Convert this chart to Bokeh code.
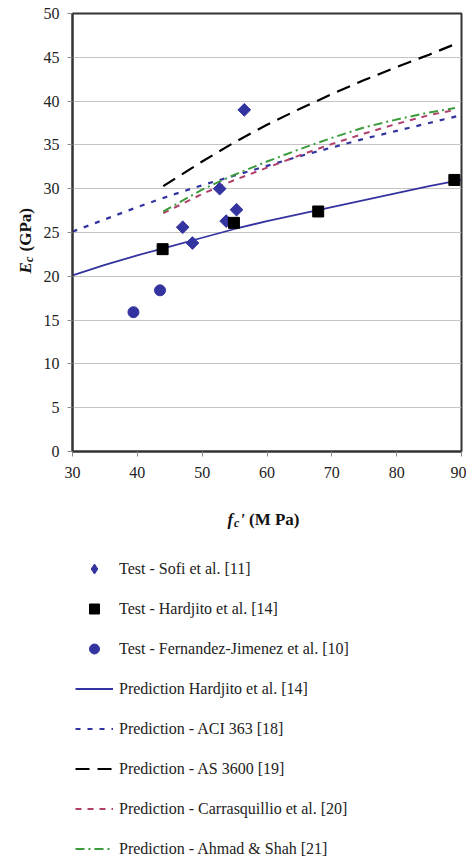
import numpy as np
from bokeh.plotting import figure
from bokeh.layouts import column, row
from bokeh.models import Legend, LegendItem, Label, FixedTicker, Range1d
from bokeh.embed import file_html
from bokeh.resources import INLINE

# ---- data ----
sofi_fc = [47.0, 48.5, 52.7, 53.7, 55.3, 56.5]
sofi_ec = [25.6, 23.8, 30.0, 26.3, 27.6, 39.0]
hard_fc = [43.9, 54.9, 67.9, 88.9]
hard_ec = [23.1, 26.1, 27.4, 31.0]
fj_fc = [39.4, 43.5]
fj_ec = [15.9, 18.4]

pred_fc = [30, 35, 40, 45, 50, 55, 60, 65, 70, 75, 80, 85, 90]
pred_hard_ec = [20.1, 21.3, 22.4, 23.4, 24.4, 25.4, 26.3, 27.1, 27.9, 28.7, 29.5, 30.3, 31.0]
aci_ec = [25.1, 26.5, 27.9, 29.2, 30.4, 31.5, 32.6, 33.7, 34.7, 35.7, 36.6, 37.5, 38.4]

hs_fc = [44, 50, 55, 60, 65, 70, 75, 80, 85, 89]
as_ec = [30.3, 33.1, 35.3, 37.3, 39.1, 40.8, 42.4, 43.9, 45.3, 46.5]
carr_ec = [27.2, 29.4, 31.0, 32.4, 33.8, 35.1, 36.3, 37.4, 38.4, 39.0]
ahmad_ec = [27.4, 29.9, 31.6, 33.1, 34.5, 35.8, 37.0, 37.9, 38.7, 39.2]

x_ticks = [30, 40, 50, 60, 70, 80, 90]
y_ticks = [0, 5, 10, 15, 20, 25, 30, 35, 40, 45, 50]

labels = [
    "Test - Sofi et al. [11]",
    "Test - Hardjito et al. [14]",
    "Test - Fernandez-Jimenez et al. [10]",
    "Prediction Hardjito et al. [14]",
    "Prediction - ACI 363 [18]",
    "Prediction - AS 3600 [19]",
    "Prediction - Carrasquillio et al. [20]",
    "Prediction - Ahmad & Shah [21]",
]

BLUE = "#3434a0"
RED = "#b0406a"
GREEN = "#3c9c3c"
FONT = "Liberation Serif"

STYLES = [
    ("scatter", dict(marker="square", angle=np.pi / 4, size=9, color=BLUE)),
    ("scatter", dict(marker="square", size=11, color="black")),
    ("scatter", dict(marker="circle", size=11, color=BLUE)),
    ("line", dict(line_color=BLUE, line_width=1.8)),
    ("line", dict(line_color=BLUE, line_width=2.2, line_dash="5 7")),
    ("line", dict(line_color="black", line_width=2.2, line_dash="14 8")),
    ("line", dict(line_color=RED, line_width=2, line_dash="6 6")),
    ("line", dict(line_color=GREEN, line_width=2, line_dash="9 4 2 4")),
]
SERIES = [
    (sofi_fc, sofi_ec), (hard_fc, hard_ec), (fj_fc, fj_ec),
    (pred_fc, pred_hard_ec), (pred_fc, aci_ec), (hs_fc, as_ec),
    (hs_fc, carr_ec), (hs_fc, ahmad_ec),
]


def draw(fig, i, legend_proxy=False):
    kind, kw = STYLES[i]
    xs, ys = SERIES[i]
    if kind == "line":
        return fig.line(xs, ys, **kw)
    kw = dict(kw)
    if legend_proxy and i == 0:
        # legend samples are drawn unrotated, so use a diamond marker there
        kw.pop("angle")
        kw["marker"] = "diamond"
    return fig.scatter(xs, ys, **kw)


def blank(w, h, xr, yr, **borders):
    f = figure(width=w, height=h, output_backend="svg", toolbar_location=None,
               x_range=xr, y_range=yr, x_axis_type=None, y_axis_type=None,
               **borders)
    f.outline_line_color = None
    f.grid.visible = False
    f.background_fill_color = "white"
    f.border_fill_color = "white"
    return f


# frame of the main chart, in page pixels
FL, FR, FT, FB = 70, 461, 13, 451
YW = 40  # width of the y-label strip

# ---------------- main chart ----------------
p = figure(width=466 - YW, height=491, output_backend="svg",
           toolbar_location=None,
           x_range=Range1d(30, 90), y_range=Range1d(0, 50),
           min_border_left=FL - YW, min_border_right=466 - FR,
           min_border_top=FT, min_border_bottom=491 - FB)
p.background_fill_color = "white"
p.border_fill_color = "white"
p.outline_line_color = "#333333"
p.outline_line_width = 2

p.xgrid.visible = False
p.ygrid.ticker = FixedTicker(ticks=y_ticks)
p.ygrid.grid_line_color = "#c4c4c4"
p.ygrid.grid_line_width = 1

for ax in (p.xaxis[0], p.yaxis[0]):
    ax.axis_line_color = "#333333"
    ax.axis_line_width = 2
    ax.major_tick_in = 0
    ax.major_tick_out = 5
    ax.major_tick_line_color = "#888888"
    ax.minor_tick_line_color = None
    ax.major_label_text_font = FONT
    ax.major_label_text_font_size = "16px"
    ax.major_label_text_color = "#222222"
p.xaxis.ticker = FixedTicker(ticks=x_ticks)
p.yaxis.ticker = FixedTicker(ticks=y_ticks)
p.xaxis.major_label_standoff = 10
p.yaxis.major_label_standoff = 8

# lines first, markers on top
for i in [3, 4, 5, 6, 7, 0, 1, 2]:
    draw(p, i)


def lab(fig, x, y, t, size, style, angle=0.0):
    fig.add_layout(Label(x=x, y=y, text=t, text_font=FONT,
                         text_font_size=f"{size}px", text_font_style=style,
                         angle=angle, text_align="left",
                         text_baseline="alphabetic", text_color="#111111"))


# ---------------- y-axis label strip (page pixel coordinates) -------
fy = blank(YW, 491, Range1d(0, YW), Range1d(FB, FT),
           min_border_left=0, min_border_right=0,
           min_border_top=FT, min_border_bottom=491 - FB)
lab(fy, 25, 273, "E", 17, "bold italic", np.pi / 2)
lab(fy, 28.5, 261.5, "c", 12, "bold italic", np.pi / 2)
lab(fy, 25, 251, "(GPa)", 17, "bold", np.pi / 2)

# ---------------- x-axis label strip ----------------
XH = 60
fx = blank(466, XH, Range1d(FL, FR), Range1d(XH, 0),
           min_border_left=FL, min_border_right=466 - FR,
           min_border_top=0, min_border_bottom=0)
lab(fx, 227, 28, "f", 17, "bold italic")
lab(fx, 233.5, 31, "c", 12, "bold italic")
lab(fx, 239.5, 28, "'", 17, "bold italic")
lab(fx, 248.5, 28, "(M Pa)", 17, "bold")

# ---------------- legend ----------------
fl = figure(width=466, height=310, output_backend="svg", toolbar_location=None,
            x_range=Range1d(-2, -1), y_range=Range1d(-2, -1),
            x_axis_type=None, y_axis_type=None,
            min_border_left=FL, min_border_right=466 - FR, min_border_top=0,
            min_border_bottom=0)
fl.outline_line_color = None
fl.grid.visible = False
fl.background_fill_color = "white"
fl.border_fill_color = "white"
leg_r = [draw(fl, i, legend_proxy=True) for i in range(8)]
items = [LegendItem(label=l, renderers=[r]) for l, r in zip(labels, leg_r)]
legend = Legend(items=items, location="top_left", orientation="vertical",
                label_text_font=FONT, label_text_font_size="16px",
                label_text_color="#222222",
                glyph_width=38, glyph_height=25, label_height=25, spacing=15,
                label_standoff=6, padding=0, margin=5,
                border_line_color=None, background_fill_alpha=0)
fl.add_layout(legend, "center")

layout = column(row(fy, p), fx, fl)
open("out.html", "w").write(file_html(layout, INLINE))
